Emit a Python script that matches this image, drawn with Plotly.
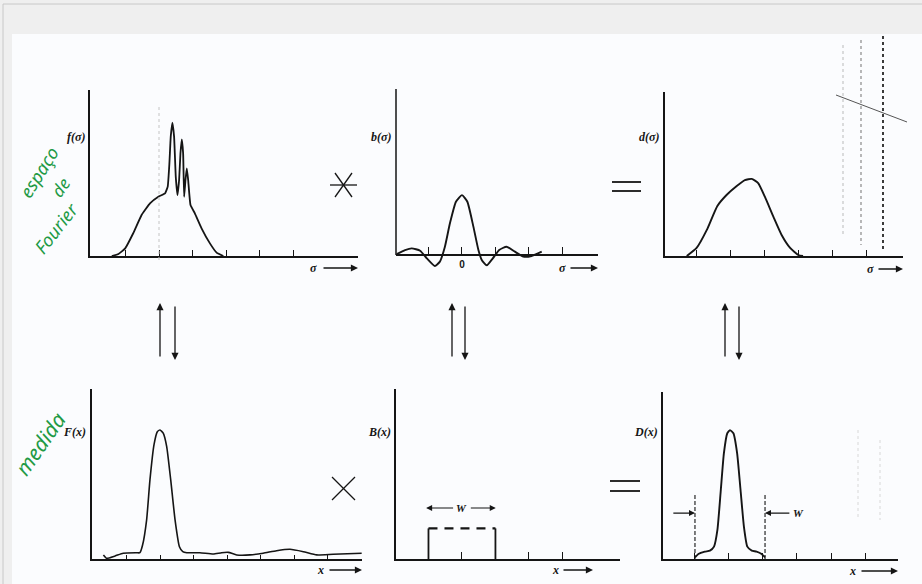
import plotly.graph_objects as go

# ---------------- data ----------------
# f(sigma): spectrum with three narrow lines on a broad hump
f_sigma = [-1.41, -1.21, -1.01, -0.77, -0.52, -0.27, -0.02, 0.18, 0.26, 0.31, 0.35, 0.40, 0.45, 0.50,
           0.55, 0.60, 0.64, 0.68, 0.72, 0.75, 0.79, 0.83, 0.87, 0.94, 1.07, 1.27, 1.52, 1.72, 1.92]
f_value = [0.0, 0.012, 0.046, 0.137, 0.247, 0.317, 0.357, 0.377, 0.418, 0.558, 0.719, 0.803, 0.719, 0.478,
           0.367, 0.458, 0.618, 0.703, 0.618, 0.357, 0.458, 0.528, 0.458, 0.307, 0.257, 0.167, 0.076, 0.020, 0.0]

# b(sigma): instrument function (sinc-like)
b_sigma = [-1.95, -1.70, -1.50, -1.25, -1.05, -0.81, -0.66, -0.51, -0.36, -0.18, 0.0, 0.16, 0.34, 0.49,
           0.59, 0.74, 0.92, 1.11, 1.33, 1.58, 1.83, 2.08, 2.38]
b_value = [0.006, 0.030, 0.040, 0.026, -0.020, -0.066, -0.040, 0.050, 0.191, 0.321, 0.361, 0.321, 0.171, 0.030,
           -0.030, -0.062, -0.020, 0.030, 0.050, 0.020, -0.010, -0.006, 0.020]

# d(sigma): measured (smoothed) spectrum
d_sigma = [-1.30, -1.01, -0.71, -0.40, -0.13, 0.17, 0.41, 0.61, 0.80, 1.00, 1.25, 1.49, 1.74, 1.98, 2.12]
d_value = [0.0, 0.049, 0.159, 0.305, 0.372, 0.427, 0.463, 0.470, 0.445, 0.360, 0.238, 0.128, 0.049, 0.006, 0.0]

# F(x): interferogram
F_x = [-1.69, -1.59, -1.34, -1.10, -0.70, -0.60, -0.52, -0.40, -0.30, -0.18, -0.08, 0.0, 0.10, 0.20, 0.32,
       0.45, 0.58, 0.68, 0.80, 1.19, 1.59, 1.84, 2.04, 2.29, 2.69, 3.08, 3.48, 3.88, 4.28, 4.68, 5.17, 6.02]
F_value = [0.024, 0.004, 0.018, 0.034, 0.037, 0.037, 0.082, 0.229, 0.465, 0.671, 0.749, 0.759, 0.739, 0.661,
           0.465, 0.229, 0.072, 0.043, 0.037, 0.037, 0.029, 0.037, 0.039, 0.024, 0.024, 0.034, 0.049, 0.057,
           0.043, 0.024, 0.028, 0.034]

# B(x): boxcar of width W
B_edges = [-1.0, 1.0]
B_height = 0.18

# D(x): truncated interferogram
D_x = [-1.00, -0.90, -0.71, -0.56, -0.44, -0.34, -0.24, -0.15, -0.05, 0.03, 0.13, 0.24, 0.34, 0.44,
       0.54, 0.67, 0.81, 0.96, 1.06]
D_value = [0.010, 0.030, 0.044, 0.050, 0.074, 0.174, 0.413, 0.633, 0.753, 0.772, 0.753, 0.633, 0.413, 0.193,
           0.074, 0.050, 0.044, 0.030, 0.010]
D_window = [-1.0, 1.06]
D_window_height = 0.383

ticks_f = [-1, 0, 1, 2, 3, 4]
ticks_b = [-1, 0, 1, 2, 3]
ticks_b_text = ["", "0", "", "", ""]
ticks_d = [-1, 0, 1, 2, 3, 4]
ticks_F = [-1, 0, 1, 2, 3, 4, 5]
ticks_B = [-1, 0, 1, 2, 3]
ticks_D = [-1, 0, 1, 2, 3, 4]

# ---------------- layout helpers ----------------
W, H = 922, 584
INK = "#151515"
GREEN = "#1f9a45"


def px(x):
    return x / W


def py(y):
    return 1 - y / H


fig = go.Figure()

line_style = dict(color=INK, width=1.9, shape="spline", smoothing=0.5)

fig.add_trace(go.Scatter(x=f_sigma, y=f_value, xaxis="x", yaxis="y", mode="lines",
                         line=dict(color=INK, width=1.8, shape="spline", smoothing=0.35)))
fig.add_trace(go.Scatter(x=b_sigma, y=b_value, xaxis="x2", yaxis="y2", mode="lines", line=line_style))
fig.add_trace(go.Scatter(x=d_sigma, y=d_value, xaxis="x3", yaxis="y3", mode="lines", line=line_style))
fig.add_trace(go.Scatter(x=F_x, y=F_value, xaxis="x4", yaxis="y4", mode="lines",
                         line=dict(color=INK, width=1.6, shape="spline", smoothing=0.5)))
# boxcar: solid sides, broken top
fig.add_trace(go.Scatter(x=[B_edges[0], B_edges[0], None, B_edges[1], B_edges[1]],
                         y=[0, B_height, None, B_height, 0], xaxis="x5", yaxis="y5", mode="lines",
                         line=dict(color=INK, width=1.8)))
fig.add_trace(go.Scatter(x=B_edges, y=[B_height, B_height], xaxis="x5", yaxis="y5", mode="lines",
                         line=dict(color=INK, width=2.2, dash="9px,7px")))
fig.add_trace(go.Scatter(x=D_x, y=D_value, xaxis="x6", yaxis="y6", mode="lines", line=line_style))
for xw in D_window:
    fig.add_trace(go.Scatter(x=[xw, xw], y=[0, D_window_height], xaxis="x6", yaxis="y6", mode="lines",
                             line=dict(color=INK, width=1.1, dash="4px,2px")))


def xax(dom, rng, tickvals, ticklen, anchor, **kw):
    d = dict(domain=[px(dom[0]), px(dom[1])], range=rng, showline=True, linecolor=INK, linewidth=1.5,
             ticks="inside", tickvals=tickvals, ticklen=ticklen, tickwidth=1.2, tickcolor=INK,
             showgrid=False, zeroline=False, showticklabels=False, anchor=anchor, fixedrange=True)
    d.update(kw)
    return d


def yax(dom, rng, anchor, showline=True):
    return dict(domain=[py(dom[1]), py(dom[0])], range=rng, showline=showline, linecolor=INK, linewidth=1.5,
                ticks="", showticklabels=False, showgrid=False, zeroline=False, anchor=anchor, fixedrange=True)


fig.update_layout(
    width=W, height=H, margin=dict(l=0, r=0, t=0, b=0),
    paper_bgcolor="#efefef", plot_bgcolor="rgba(0,0,0,0)", showlegend=False,
    xaxis=xax((90, 358), [-2.06, 5.94], ticks_f, 6, "y"),
    yaxis=yax((90, 256), [0, 1], "x"),
    xaxis2=xax((396, 598), [-1.97, 4.06], ticks_b, 7, "free", position=py(255), showticklabels=True,
               ticktext=ticks_b_text,
               tickfont=dict(family="Liberation Sans", size=10, color=INK, weight="bold")),
    yaxis2=yax((89, 268), [-0.0783, 1], "x2", showline=False),
    xaxis3=xax((665, 903), [-1.94, 5.06], ticks_d, 6, "y3"),
    yaxis3=yax((92, 256), [0, 1], "x3"),
    xaxis4=xax((92, 362), [-2.03, 6.03], ticks_F, 4, "y4"),
    yaxis4=yax((389, 559), [0, 1], "x4"),
    xaxis5=xax((396, 620), [-1.97, 4.72], ticks_B, 7, "y5"),
    yaxis5=yax((389, 559), [0, 1], "x5"),
    xaxis6=xax((663, 898), [-1.94, 4.97], ticks_D, 6, "y6"),
    yaxis6=yax((392, 559), [0, 1], "x6"),
)

shapes = []
# page frame
shapes.append(dict(type="rect", xref="paper", yref="paper", x0=px(12), x1=px(922), y0=py(584), y1=py(34),
                   fillcolor="#fbfcfe", line=dict(width=0), layer="below"))
shapes.append(dict(type="line", xref="paper", yref="paper", x0=px(3), x1=px(922), y0=py(4), y1=py(4),
                   line=dict(color="#c8c8c8", width=1), layer="below"))
shapes.append(dict(type="line", xref="paper", yref="paper", x0=px(3), x1=px(3), y0=py(4), y1=py(584),
                   line=dict(color="#c8c8c8", width=1), layer="below"))
# y-axis line of b(sigma) panel (stops at the sigma axis)
shapes.append(dict(type="line", xref="x2 domain", yref="y2", x0=0, x1=0, y0=0, y1=1,
                   line=dict(color=INK, width=1.5)))


def seg(x0, y0, x1, y1, width=1.3, color=INK, dash="solid"):
    shapes.append(dict(type="line", xref="paper", yref="paper", x0=px(x0), y0=py(y0), x1=px(x1), y1=py(y1),
                       line=dict(color=color, width=width, dash=dash)))


# convolution star
seg(330, 185, 357, 185)
seg(335, 173, 352, 197)
seg(352, 173, 335, 197)
# multiplication cross
seg(332, 477, 355, 500)
seg(355, 477, 332, 500)
# equals signs
seg(612, 182, 641, 182, 1.8)
seg(612, 191, 641, 191, 1.8)
seg(610, 481, 640, 481, 1.8)
seg(610, 491, 640, 491, 1.8)
# faint fold line and scan marks
seg(159, 107, 159, 263, 1, "#c4c4c4", "dot")
seg(883, 36, 883, 250, 2, "#3a3a3a", "dot")
seg(861, 40, 861, 245, 1.4, "#9a9a9a", "dot")
seg(843, 45, 843, 235, 1.1, "#c0c0c0", "dot")
seg(836, 95, 907, 122, 1, "#555555")
seg(858, 430, 858, 520, 1, "#d8d8d8", "dot")
seg(880, 440, 880, 520, 1, "#d8d8d8", "dot")
fig.update_layout(shapes=shapes)

ann = []
lab_font = dict(family="Liberation Serif", size=12, color=INK, weight="bold", style="italic")


def label(text, xr, y, anchor="right"):
    ann.append(dict(text=text, x=px(xr), y=py(y), xref="paper", yref="paper", showarrow=False,
                    xanchor=anchor, yanchor="middle", font=lab_font))


label("f(σ)", 87, 137)
label("b(σ)", 393, 137)
label("d(σ)", 661, 137)
label("F(x)", 88, 432)
label("B(x)", 393, 432)
label("D(x)", 660, 432)


def arrow(hx, hy, tx, ty, width=1.3):
    ann.append(dict(text="", x=px(hx), y=py(hy), xref="paper", yref="paper", showarrow=True,
                    ax=tx - hx, ay=ty - hy, arrowhead=2, arrowsize=1.1, arrowwidth=width, arrowcolor=INK))


# axis variable arrows
for (t, tx, ty, x0, x1) in [("σ", 313, 268, 322, 358), ("σ", 562, 268, 569, 598), ("σ", 870, 269, 877, 903),
                            ("x", 320, 570, 328, 362), ("x", 555, 570, 562, 593), ("x", 852, 571, 860, 898)]:
    ann.append(dict(text=t, x=px(tx), y=py(ty), xref="paper", yref="paper", showarrow=False,
                    xanchor="center", yanchor="middle",
                    font=dict(family="Liberation Serif", size=12, color=INK, style="italic", weight="bold")))
    arrow(x1, ty, x0, ty)

# transform arrows between rows
for xu, xd in [(160, 175), (452, 465), (725, 739)]:
    arrow(xu, 303, xu, 358)
    arrow(xd, 360, xd, 305)

# W markers
w_font = dict(family="Liberation Serif", size=11, color=INK, style="italic", weight="bold")
ann.append(dict(text="W", x=0, y=0.30, xref="x5", yref="y5", showarrow=False, font=w_font,
                xanchor="center", yanchor="middle"))
for hx, tx in [(-1.07, -0.22), (1.01, 0.22)]:
    ann.append(dict(text="", x=hx, y=0.30, xref="x5", yref="y5", axref="x5", ayref="y5", ax=tx, ay=0.30,
                    showarrow=True, arrowhead=2, arrowsize=1, arrowwidth=1.2, arrowcolor=INK))
ann.append(dict(text="W", x=2.05, y=0.275, xref="x6", yref="y6", showarrow=False, font=w_font,
                xanchor="center", yanchor="middle"))
for hx, tx in [(-1.0, -1.68), (1.06, 1.82)]:
    ann.append(dict(text="", x=hx, y=0.275, xref="x6", yref="y6", axref="x6", ayref="y6", ax=tx, ay=0.275,
                    showarrow=True, arrowhead=2, arrowsize=1, arrowwidth=1.2, arrowcolor=INK))

# green handwritten notes
for t, x, y, ang, size in [("espaço", 39, 172, -58, 18), ("de", 60, 187, -55, 17),
                           ("Fourier", 56, 228, -52, 18), ("medida", 40, 444, -55, 21)]:
    ann.append(dict(text=t, x=px(x), y=py(y), xref="paper", yref="paper", showarrow=False, textangle=ang,
                    xanchor="center", yanchor="middle",
                    font=dict(family="Noto Sans", size=size, color=GREEN, style="italic")))

fig.update_layout(annotations=ann)
fig.write_html("out.html", config={"displayModeBar": False},
               post_script="document.body.style.margin='0';document.body.style.overflow='hidden';")
